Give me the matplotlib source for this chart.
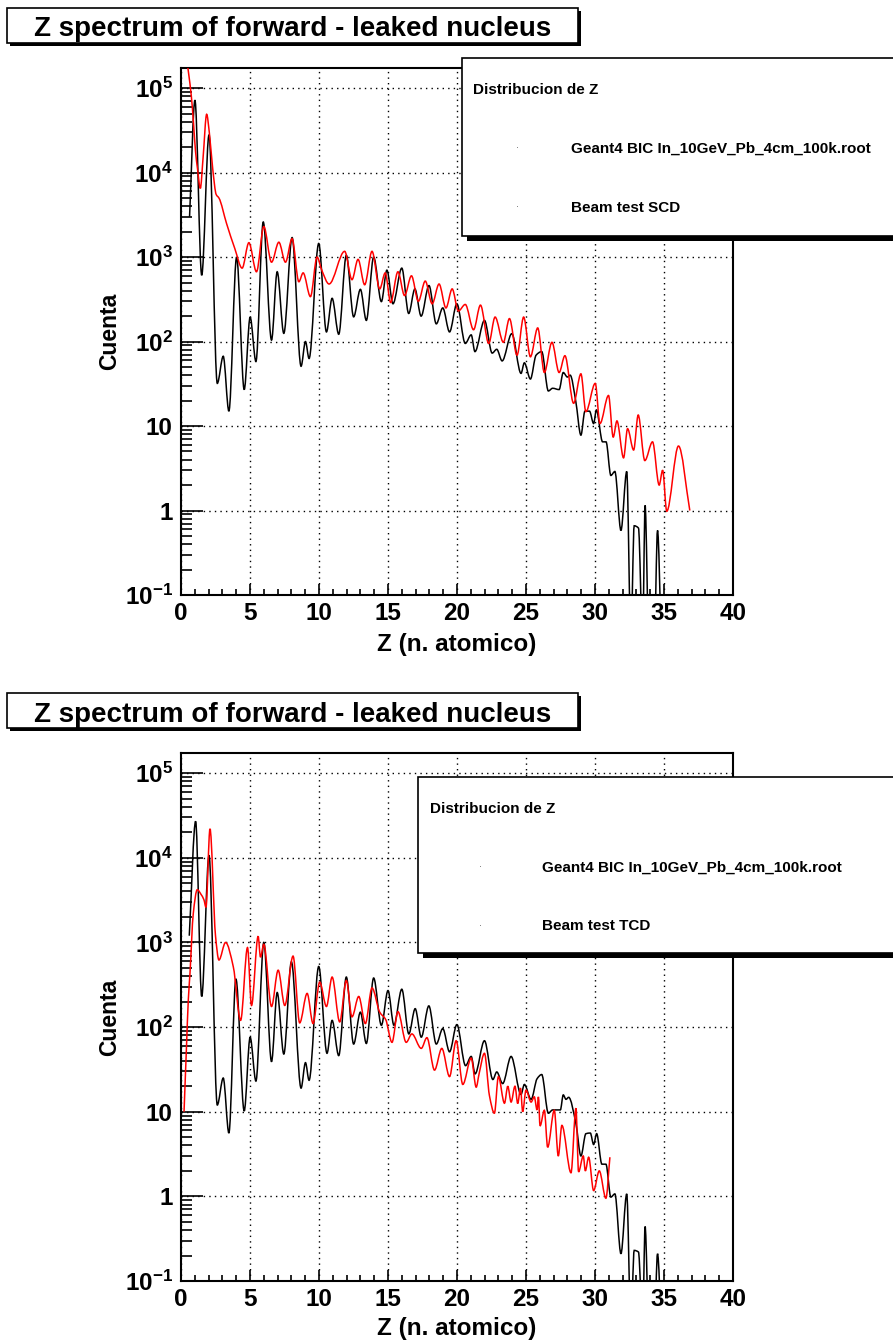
import numpy as np
import matplotlib
matplotlib.use("Agg")
import matplotlib.pyplot as plt
from matplotlib.path import Path
from matplotlib.patches import PathPatch, Rectangle

plt.rcParams['font.family'] = ['Liberation Sans', 'DejaVu Sans']
plt.rcParams['font.weight'] = 'bold'
plt.rcParams['mathtext.fontset'] = 'custom'
plt.rcParams['mathtext.rm'] = 'Liberation Sans:bold'
plt.rcParams['mathtext.bf'] = 'Liberation Sans:bold'
plt.rcParams['mathtext.it'] = 'Liberation Sans:bold'
plt.rcParams['mathtext.default'] = 'rm'

# ---------------------------------------------------------------- data
title = "Z spectrum of forward - leaked nucleus"
x_label = "Z (n. atomico)"
y_label = "Cuenta"
legend_header = "Distribucion de Z"
sim_name = "Geant4 BIC In_10GeV_Pb_4cm_100k.root"
beam_names = ["Beam test SCD", "Beam test TCD"]

y_tick_values = [0.1, 1, 10, 100, 1e3, 1e4, 1e5]
y_tick_labels = [r"$10^{-1}$", "1", "10", r"$10^{2}$", r"$10^{3}$", r"$10^{4}$", r"$10^{5}$"]
x_tick_values = [0, 5, 10, 15, 20, 25, 30, 35, 40]

# SCD panel, Geant4 simulation
scd_sim_z = [0.62, 1.01, 1.5, 2.03, 2.63, 3.06, 3.47, 4.03, 4.58, 5.01, 5.43, 5.96,
             6.56, 6.97, 7.45, 8.05, 8.7, 9.02, 9.28, 9.98, 10.54, 10.95, 11.43, 11.98,
             12.51, 13.0, 13.43, 13.96, 14.52, 14.92, 15.36, 16.0, 16.5, 16.95, 17.4,
             17.97, 18.5, 18.97, 19.46, 19.99, 20.6, 21.03, 21.3, 21.99, 22.55, 22.88,
             23.27, 23.97, 24.64, 24.88, 25.32, 25.73, 26.14, 26.62, 26.93, 27.4, 27.7,
             28.0, 28.2, 28.6, 28.98, 29.27, 29.6, 29.9, 30.1, 30.55, 30.8, 31.15, 31.44,
             31.88, 32.3, 32.6, 32.84, 33.15, 33.45, 33.63, 33.9, 34.3, 34.53, 34.8]
scd_sim_n = [3000, 72000, 610, 28000, 32, 67, 15, 1000, 27, 195, 58, 2600,
             104, 670, 125, 1700, 51, 100, 63, 1450, 130, 325, 122, 1050,
             196, 415, 178, 1000, 297, 700, 280, 740, 215, 420, 200,
             460, 162, 250, 130, 280, 95, 120, 76, 178, 73, 81,
             59, 124, 42, 56, 36, 69, 76, 26, 28, 27, 43,
             38, 40, 20, 7.8, 15, 15, 10.7, 15.5, 6.5, 6.5, 2.6, 2.9,
             0.58, 2.9, 0.03, 0.66, 0.62, 0.03, 1.15, 0.03, 0.03, 0.58, 0.03]

# SCD panel, beam test
scd_beam_z = [0.3, 0.55, 0.75, 0.9, 1.05, 1.2, 1.4, 1.6, 1.86, 2.05, 2.3, 2.55, 2.75,
              3.3, 3.9, 4.43, 4.92, 5.47, 6.0, 6.56, 7.09, 7.57, 8.05, 8.54, 8.85, 9.38,
              9.86, 10.2, 10.73, 11.86, 12.39, 12.83, 13.31, 13.84, 14.4, 14.8, 15.19,
              15.72, 16.2, 16.7, 17.2, 17.7, 18.2, 18.7, 19.2, 19.65, 20.1, 20.6, 21.2,
              21.7, 22.3, 22.76, 23.36, 23.8, 24.35, 24.83, 25.32, 25.85, 26.33, 26.88,
              27.4, 27.82, 28.45, 28.98, 29.34, 30.02, 30.36, 30.98, 31.32, 31.59, 32.07,
              32.36, 32.8, 33.13, 33.61, 34.17, 34.65, 34.9, 35.2, 36.05, 36.87]
scd_beam_n = [3e5, 1.5e5, 8e4, 4e4, 1.8e4, 1.1e4, 6.5e3, 1.5e4, 4.9e4, 3.0e4, 1.1e4, 5.5e3, 5.0e3,
              2.5e3, 1.26e3, 740, 1480, 670, 2300, 870, 1500, 870, 1650, 510, 650, 340,
              1000, 700, 480, 1170, 540, 940, 470, 1170, 420, 650, 290,
              670, 350, 600, 300, 520, 280, 480, 250, 420, 230, 275, 138,
              270, 95, 195, 98, 187, 69, 195, 66, 145, 43, 98,
              43, 68, 18.6, 41.5, 14.8, 32, 10.7, 23, 7.4, 11.5, 4.2,
              9.3, 5.2, 13.5, 3.9, 6.5, 2.0, 3.0, 0.98, 5.8, 1.0]

# TCD panel, Geant4 simulation
tcd_sim_z = [0.6, 1.06, 1.5, 2.03, 2.63, 3.06, 3.47, 3.98, 4.58, 5.01, 5.43, 6.0,
             6.56, 6.97, 7.45, 8.0, 8.7, 9.02, 9.28, 9.98, 10.58, 10.95, 11.43, 11.98,
             12.51, 13.0, 13.43, 13.96, 14.52, 15.0, 15.43, 16.0, 16.51, 16.97, 17.41,
             17.96, 18.5, 18.97, 19.46, 19.99, 20.62, 21.03, 21.31, 21.99, 22.6, 22.88,
             23.31, 23.92, 24.64, 24.88, 25.37, 25.8, 26.14, 26.62, 26.93, 27.49, 27.7,
             27.9, 28.09, 28.62, 28.98, 29.34, 29.66, 29.9, 30.12, 30.5, 30.79, 31.15,
             31.44, 31.88, 32.3, 32.6, 32.84, 33.15, 33.45, 33.63, 33.9, 34.3, 34.53, 34.8]
tcd_sim_n = [1200, 27000, 230, 10700, 12, 25, 5.6, 370, 10.2, 76, 23, 1000,
             39, 256, 48, 590, 19, 38, 23.5, 520, 49, 120, 46, 390,
             63, 150, 64, 380, 105, 270, 105, 280, 83, 165, 76,
             178, 63, 96, 51, 107, 35, 45, 28, 69, 24, 29.5,
             21.5, 45, 16, 21, 14, 24.5, 27.5, 9.6, 10.5, 10.5, 15.8,
             14, 14.8, 7.2, 3.0, 5.5, 5.6, 4.1, 5.5, 2.4, 2.4, 0.98,
             1.07, 0.21, 1.07, 0.03, 0.23, 0.22, 0.03, 0.44, 0.03, 0.03, 0.21, 0.03]

# TCD panel, beam test
tcd_beam_z = [0.22, 0.4, 0.53, 0.65, 0.89, 1.18, 1.45, 1.66, 1.81, 2.1, 2.5, 2.75,
              3.23, 3.79, 4.32, 4.82, 5.11, 5.59, 5.76, 6.0, 6.56, 7.04, 7.52, 8.12,
              8.6, 9.14, 9.57, 10.05, 10.54, 10.95, 11.5, 11.98, 12.39, 12.88, 13.36,
              13.84, 14.4, 14.83, 15.29, 15.72, 16.32, 16.73, 17.41, 17.82, 18.37, 18.9,
              19.46, 19.94, 20.42, 21.03, 21.39, 21.6, 21.99, 22.35, 22.71, 23.0, 23.44,
              23.68, 23.92, 24.2, 24.4, 24.6, 24.76, 25.0, 25.37, 25.6, 25.8, 25.9, 26.02,
              26.33, 26.57, 27.05, 27.34, 27.6, 28.26, 28.62, 28.81, 29.15, 29.3, 29.54,
              29.9, 30.31, 30.79, 31.08]
tcd_beam_n = [10, 60, 210, 430, 2200, 4200, 3700, 3200, 2600, 22000, 1200, 620,
              1000, 515, 120, 870, 180, 1180, 670, 950, 175, 470, 180, 690,
              112, 250, 110, 340, 175, 390, 115, 355, 132, 230, 110,
              290, 150, 123, 66, 152, 66, 83, 56, 75, 31, 56,
              26, 69, 21, 43, 19.5, 28, 49, 15.5, 9.6, 26, 12.6,
              20, 13, 20, 12.5, 19, 10, 18, 13, 15, 10.5, 15, 6.8,
              10.4, 3.8, 10.4, 3.0, 6.9, 1.9, 11, 1.95, 3.0, 2.0, 2.9,
              1.17, 2.0, 0.95, 2.9]

panels = [
    (scd_sim_z, scd_sim_n, scd_beam_z, scd_beam_n, beam_names[0]),
    (tcd_sim_z, tcd_sim_n, tcd_beam_z, tcd_beam_n, beam_names[1]),
]

# ---------------------------------------------------------------- helpers
W, H = 893, 1341


def fx(px):
    return px / W


def fy(py):
    return 1 - py / H


def smooth_path(z, n):
    """Shape-preserving cubic through the points (in log10 of the counts)."""
    x = np.asarray(z, float)
    ly = np.log10(np.asarray(n, float))
    h = np.diff(x)
    d = np.diff(ly) / h
    m = np.zeros_like(ly)
    m[0], m[-1] = d[0], d[-1]
    for i in range(1, len(x) - 1):
        if d[i - 1] * d[i] > 0:
            w1 = 2 * h[i] + h[i - 1]
            w2 = h[i] + 2 * h[i - 1]
            m[i] = (w1 + w2) / (w1 / d[i - 1] + w2 / d[i])
    verts = [(x[0], 10 ** ly[0])]
    codes = [Path.MOVETO]
    for i in range(len(h)):
        verts.append((x[i] + h[i] / 3, 10 ** (ly[i] + m[i] * h[i] / 3)))
        verts.append((x[i + 1] - h[i] / 3, 10 ** (ly[i + 1] - m[i + 1] * h[i] / 3)))
        verts.append((x[i + 1], 10 ** ly[i + 1]))
        codes += [Path.CURVE4] * 3
    return Path(verts, codes)


def shadow_box(fig, x0, y0, x1, y1, shadow, lw=1.2):
    fig.patches.append(Rectangle((fx(x0 + shadow), fy(y1 + shadow)),
                                 fx(x1 - x0), (y1 - y0) / H,
                                 transform=fig.transFigure, facecolor='black',
                                 edgecolor='none', zorder=5))
    fig.patches.append(Rectangle((fx(x0), fy(y1)), fx(x1 - x0), (y1 - y0) / H,
                                 transform=fig.transFigure, facecolor='white',
                                 edgecolor='black', linewidth=lw, zorder=6))


# ---------------------------------------------------------------- figure
fig = plt.figure(figsize=(W / 100, H / 100), dpi=100)

ax_left, ax_right = 181, 733
panel_geom = [
    dict(top=68, bottom=595, title=(7, 8, 578, 43),
         legend=(462, 58, 920, 236), head_dx=11, text_dx=109, dot_dx=55,
         ylab_y=331, xlab_y=644),
    dict(top=753, bottom=1281, title=(7, 693, 578, 728),
         legend=(418, 777, 920, 953), head_dx=12, text_dx=124, dot_dx=62,
         ylab_y=1017, xlab_y=1328),
]

minor_y = [k * 10.0 ** e for e in range(-1, 6) for k in range(2, 10)]
minor_y = [v for v in minor_y if v < 1.73e5]

for (sz, sn, bz, bn, beam_label), g in zip(panels, panel_geom):
    ax = fig.add_axes([fx(ax_left), fy(g['bottom']), fx(ax_right - ax_left),
                       (g['bottom'] - g['top']) / H])
    ax.set_yscale('log')
    ax.set_xlim(0, 40)
    ax.set_ylim(0.1, 1.73e5)

    ax.set_xticks(x_tick_values)
    ax.set_xticklabels([str(v) for v in x_tick_values])
    ax.set_xticks(np.arange(0, 41, 1), minor=True)
    ax.set_yticks(y_tick_values)
    ax.set_yticklabels(y_tick_labels)
    ax.set_yticks(minor_y, minor=True)
    ax.yaxis.set_minor_formatter(plt.NullFormatter())

    ax.tick_params(axis='x', which='major', direction='in', length=8, width=1.2,
                   labelsize=17.5, pad=5)
    ax.tick_params(axis='x', which='minor', direction='in', length=4.5, width=1.2)
    ax.tick_params(axis='y', which='major', direction='in', length=16, width=1.2,
                   labelsize=17.5, pad=6)
    ax.tick_params(axis='y', which='minor', direction='in', length=8, width=1.2)
    for lab in ax.get_xticklabels() + ax.get_yticklabels():
        lab.set_fontweight('bold')

    ax.grid(True, which='major', color='black', linestyle=(0, (1, 3)), linewidth=1.0)
    for sp in ax.spines.values():
        sp.set_linewidth(1.5)

    ax.add_patch(PathPatch(smooth_path(sz, sn), facecolor='none', edgecolor='black',
                           linewidth=1.1, zorder=3))
    ax.add_patch(PathPatch(smooth_path(bz, bn), facecolor='none', edgecolor='#ff0000',
                           linewidth=1.1, zorder=3))

    # title box
    tx0, ty0, tx1, ty1 = g['title']
    shadow_box(fig, tx0, ty0, tx1, ty1, 3)
    fig.text(fx((tx0 + tx1) / 2), fy((ty0 + ty1) / 2 + 1), title, ha='center',
             va='center_baseline', fontsize=20, fontweight='bold', zorder=7)

    # legend box
    lx0, ly0, lx1, ly1 = g['legend']
    shadow_box(fig, lx0, ly0, lx1, ly1, 5)
    fig.text(fx(lx0 + g['head_dx']), fy(ly0 + 31), legend_header, ha='left',
             va='center_baseline', fontsize=11, fontweight='bold', zorder=7)
    fig.text(fx(lx0 + g['text_dx']), fy(ly0 + 89), sim_name, ha='left',
             va='center_baseline', fontsize=11, fontweight='bold', zorder=7)
    fig.text(fx(lx0 + g['text_dx']), fy(ly0 + 148), beam_label, ha='left',
             va='center_baseline', fontsize=11, fontweight='bold', zorder=7)
    for yy in (ly0 + 89, ly0 + 148):
        fig.patches.append(Rectangle((fx(lx0 + g['dot_dx']), fy(yy + 1)), 1 / W, 1 / H,
                                     transform=fig.transFigure, facecolor='#888888',
                                     edgecolor='none', zorder=7))

    # axis titles
    fig.text(fx(110), fy(g['ylab_y']), y_label, rotation=90, ha='center',
             va='center', fontsize=16.5, fontweight='bold')
    fig.text(fx((ax_left + ax_right) / 2), fy(g['xlab_y']), x_label, ha='center',
             va='center', fontsize=17.5, fontweight='bold')

fig.savefig("out.png", dpi=100)
